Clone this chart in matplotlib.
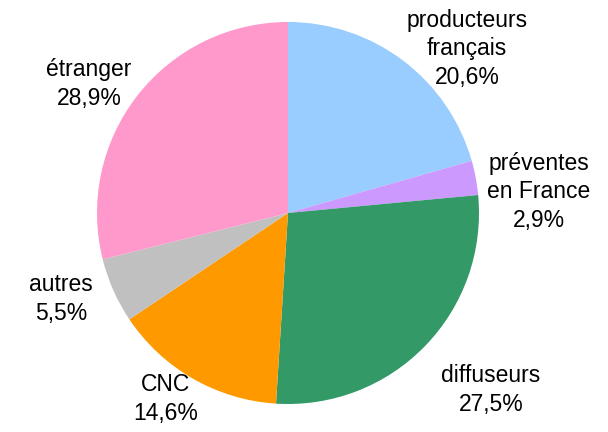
import matplotlib.pyplot as plt

plt.rcParams['font.family'] = ['Liberation Sans', 'DejaVu Sans']

categories = ['producteurs\nfrançais', 'préventes\nen France', 'diffuseurs', 'CNC', 'autres', 'étranger']
values = [20.6, 2.9, 27.5, 14.6, 5.5, 28.9]
colors = ['#99CCFF', '#CC99FF', '#339966', '#FF9900', '#C0C0C0', '#FF99CC']

# label centres in pixel space (x from left, y from top)
label_pos = [(467, 49), (539, 192), (491, 390), (166, 399), (61, 299), (89, 84)]

W, H = 608, 432
fig = plt.figure(figsize=(6.08, 4.32), dpi=100)
ax = fig.add_axes([0, 0, 1, 1])

ax.pie(values, colors=colors, startangle=90, counterclock=False,
       center=(288, H - 213), radius=191, frame=True)
ax.set_xlim(0, W)
ax.set_ylim(0, H)
ax.axis('off')

for cat, v, (x, y) in zip(categories, values, label_pos):
    txt = cat + '\n' + f'{v:.1f}%'.replace('.', ',')
    ax.text(x, H - y, txt, ha='center', va='center', fontsize=16.5,
            linespacing=1.3, color='black')

fig.savefig('out.png', dpi=100)
